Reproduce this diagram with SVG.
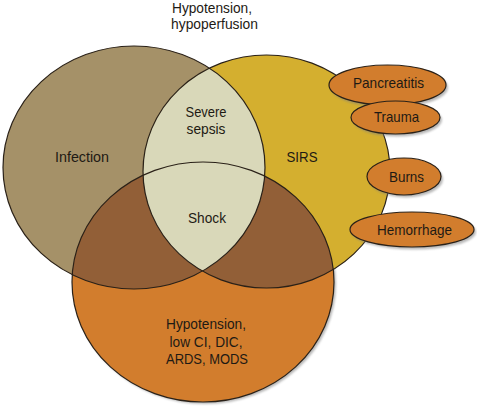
<svg xmlns="http://www.w3.org/2000/svg" xmlns:xlink="http://www.w3.org/1999/xlink" width="477" height="409" viewBox="0 0 477 409">
<style>
text{font-family:"Liberation Sans",Arial,sans-serif;font-size:15px;fill:#1e1a14;text-anchor:middle}
.edge{fill:none;stroke:#2a2118;stroke-width:1.2}
.small{fill:#D27D2D;stroke:#2a2118;stroke-width:1.2}
.shadow{fill:#7d7d7d;opacity:0.55}
</style>
<defs>
<ellipse id="eInf" cx="134" cy="167.5" rx="131" ry="121.5"/>
<ellipse id="eSirs" cx="266.5" cy="171.5" rx="123.5" ry="116.5"/>
<ellipse id="eBot" cx="203" cy="282" rx="131" ry="120"/>
<clipPath id="cInf"><use xlink:href="#eInf"/></clipPath>
<clipPath id="cBot"><use xlink:href="#eBot"/></clipPath>
<filter id="blur" x="-10%" y="-10%" width="120%" height="120%"><feGaussianBlur stdDeviation="0.8"/></filter>
</defs>
<rect width="477" height="409" fill="#ffffff"/>
<g id="top-label">
<text x="212" y="13" textLength="80" lengthAdjust="spacingAndGlyphs">Hypotension,</text>
<text x="214.5" y="29" textLength="87" lengthAdjust="spacingAndGlyphs">hypoperfusion</text>
</g>
<ellipse class="shadow" cx="205" cy="284" rx="131" ry="120" filter="url(#blur)"/>
<g id="infection">
<use xlink:href="#eInf" fill="#A59168"/>
</g>
<g id="sirs">
<use xlink:href="#eSirs" fill="#D4AF2F"/>
</g>
<g id="organ-dysfunction">
<use xlink:href="#eBot" fill="#D27D2D"/>
</g>
<g id="overlaps">
<use xlink:href="#eInf" fill="#925F37" clip-path="url(#cBot)"/>
<use xlink:href="#eSirs" fill="#925F37" clip-path="url(#cBot)"/>
<use xlink:href="#eSirs" fill="#D9D8B9" clip-path="url(#cInf)"/>
</g>
<g id="outlines">
<use xlink:href="#eInf" class="edge"/>
<use xlink:href="#eSirs" class="edge"/>
<use xlink:href="#eBot" class="edge"/>
</g>
<g id="labels">
<text x="82" y="162" textLength="54" lengthAdjust="spacingAndGlyphs">Infection</text>
<text x="302" y="162" textLength="31" lengthAdjust="spacingAndGlyphs">SIRS</text>
<text x="206" y="117" textLength="41" lengthAdjust="spacingAndGlyphs">Severe</text>
<text x="206" y="134" textLength="39" lengthAdjust="spacingAndGlyphs">sepsis</text>
<text x="207" y="223" textLength="38" lengthAdjust="spacingAndGlyphs">Shock</text>
<text x="206" y="329" textLength="80" lengthAdjust="spacingAndGlyphs">Hypotension,</text>
<text x="206" y="347" textLength="73" lengthAdjust="spacingAndGlyphs">low CI, DIC,</text>
<text x="207" y="364" textLength="82" lengthAdjust="spacingAndGlyphs">ARDS, MODS</text>
</g>
<g id="pancreatitis">
<ellipse class="shadow" cx="389.5" cy="87.5" rx="58.5" ry="20" filter="url(#blur)"/>
<ellipse class="small" cx="387.5" cy="85" rx="58.5" ry="20"/>
<text x="388.5" y="87.5" textLength="71" lengthAdjust="spacingAndGlyphs">Pancreatitis</text>
</g>
<g id="trauma">
<ellipse class="shadow" cx="397.5" cy="120" rx="44.5" ry="16.5" filter="url(#blur)"/>
<ellipse class="small" cx="395.5" cy="117.5" rx="44.5" ry="16.5"/>
<text x="396.5" y="122" textLength="45" lengthAdjust="spacingAndGlyphs">Trauma</text>
</g>
<g id="burns">
<ellipse class="shadow" cx="406" cy="179" rx="37" ry="18.5" filter="url(#blur)"/>
<ellipse class="small" cx="404" cy="176.5" rx="37" ry="18.5"/>
<text x="406.5" y="182" textLength="35" lengthAdjust="spacingAndGlyphs">Burns</text>
</g>
<g id="hemorrhage">
<ellipse class="shadow" cx="414" cy="232" rx="62" ry="17.5" filter="url(#blur)"/>
<ellipse class="small" cx="412" cy="229.5" rx="62" ry="17.5"/>
<text x="414.5" y="234.5" textLength="75" lengthAdjust="spacingAndGlyphs">Hemorrhage</text>
</g>
</svg>
